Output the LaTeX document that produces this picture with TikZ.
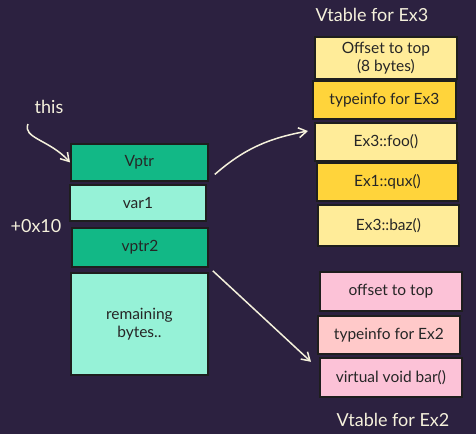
\documentclass[tikz,border=0pt]{standalone}
\usepackage{fontspec}
\setmainfont{Lato}
\usetikzlibrary{arrows.meta}
\definecolor{bg}{HTML}{2C2140}
\definecolor{dgreen}{HTML}{12B886}
\definecolor{lgreen}{HTML}{96F2D7}
\definecolor{lyellow}{HTML}{FFEC99}
\definecolor{dyellow}{HTML}{FFD43B}
\definecolor{pinkA}{HTML}{FCC2D7}
\definecolor{pinkB}{HTML}{FFC9C9}
\definecolor{edge}{HTML}{1E1E1E}
\definecolor{ink}{HTML}{F5F1DC}
\tikzset{
  cell/.style={draw=edge, line width=1.8pt, anchor=north west, inner sep=0pt, align=center, font=\fontsize{15.5}{18}\selectfont, text=black!85},
  lbl/.style={text=ink, font=\fontsize{18}{20}\selectfont},
  arr/.style={draw=ink, line width=1.5pt, -{Straight Barb[length=8pt,width=10pt]}}
}
\begin{document}
\begin{tikzpicture}[x=1pt,y=-1pt]
\fill[bg] (0,0) rectangle (476,434);
\useasboundingbox (0,0) rectangle (476,434);
% left memory layout
\node[cell, fill=dgreen, minimum width=137, minimum height=37] (vptr) at (70,143) {Vptr};
\node[cell, fill=lgreen, minimum width=136, minimum height=36] (var1) at (69,184) {var1};
\node[cell, fill=dgreen, minimum width=136, minimum height=39] (vptr2) at (71,227) {vptr2};
\node[cell, fill=lgreen, minimum width=137, minimum height=102] (rem) at (70,272) {remaining\\bytes..};
\node[lbl] (this) at (49,107) {this};
\node[lbl] (off) at (36,226) {+0x10};
\coordinate (thisA) at (28,124);
% Ex3 vtable
\node[lbl] (t3) at (372,15) {Vtable for Ex3};
\node[cell, fill=lyellow, minimum width=142, minimum height=42] (o3) at (314,36) {Offset to top\\(8 bytes)};
\node[cell, fill=dyellow, minimum width=143, minimum height=38] (ti3) at (312,80) {typeinfo for Ex3};
\node[cell, fill=lyellow, minimum width=142, minimum height=38] (foo) at (314,122) {Ex3::foo()};
\node[cell, fill=dyellow, minimum width=141, minimum height=38] (qux) at (316,162) {Ex1::qux()};
\node[cell, fill=lyellow, minimum width=141, minimum height=41] (baz) at (317,204) {Ex3::baz()};
% Ex2 vtable
\node[cell, fill=pinkA, minimum width=142, minimum height=39] (o2) at (319,271) {offset to top};
\node[cell, fill=pinkB, minimum width=142, minimum height=38] (ti2) at (317,315) {typeinfo for Ex2};
\node[cell, fill=pinkA, minimum width=142, minimum height=39] (bar) at (319,357) {virtual void bar()};
\node[lbl] (t2) at (393,420) {Vtable for Ex2};
% arrows
\draw[arr] (thisA) .. controls (22,138) and (50,140) .. (vptr.west);
\draw[arr] ([xshift=6pt,yshift=-12pt]vptr.east) .. controls (245,148) and (270,138) .. ([xshift=-6pt,yshift=-9pt]foo.north west);
\draw[arr] ([xshift=4pt,yshift=-3pt]vptr2.south east) -- ([xshift=-6pt,yshift=-7pt]ti2.south west);
\end{tikzpicture}
\end{document}
